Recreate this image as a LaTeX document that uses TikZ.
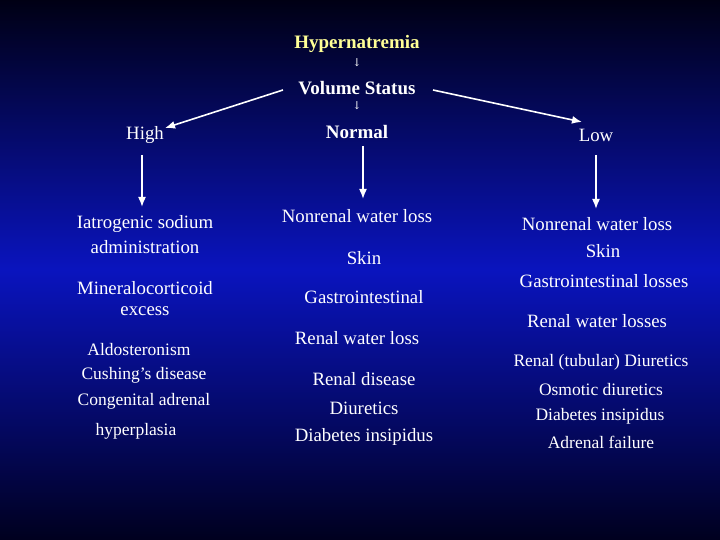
\documentclass[tikz,border=0pt]{standalone}
\usepackage{fontspec}
\setmainfont{Liberation Serif}
\newfontfamily\arrfont{DejaVu Serif}
\begin{document}
\begin{tikzpicture}[x=1pt,y=-1pt,
  t/.style={text=white,inner sep=0pt,font=\fontsize{18.8}{20}\selectfont},
  ts/.style={text=white,inner sep=0pt,font=\fontsize{17.5}{19}\selectfont},
  tb/.style={text=white,inner sep=0pt,font=\bfseries\fontsize{19}{21}\selectfont},
  sa/.style={text=white,inner sep=0pt,font=\arrfont\fontsize{11}{12}\selectfont},
  ar/.style={draw=white,line width=1.6pt,-{Latex[length=10pt,width=8pt]}}]
\usetikzlibrary{arrows.meta}
\shade[top color=black!92!blue, bottom color=black!88!blue, middle color={rgb,255:red,10;green,20;blue,190}] (0,0) rectangle (720,540);
\useasboundingbox (0,0) rectangle (720,540);
\node[tb,text={rgb,255:red,255;green,255;blue,150}] (hyp) at (357,44) {Hypernatremia};
\node[sa] (a1) at (357,63) {↓};
\node[tb] (vol) at (357,88) {Volume Status};
\node[sa] (a2) at (357,106) {↓};
\node[tb] (nor) at (357,132) {Normal};
\node[t] (high) at (145,135) {High};
\node[t] (low) at (596,135) {Low};
\coordinate (vl) at (283,90); \coordinate (vlE) at (165,128);
\coordinate (vr) at (433,90); \coordinate (vrE) at (582,122);
\draw[ar] (vl) -- (vlE);
\draw[ar] (vr) -- (vrE);
\coordinate (h1) at (142,155); \coordinate (h2) at (142,207);
\coordinate (n1) at (363,146); \coordinate (n2) at (363,199);
\coordinate (l1) at (596,155); \coordinate (l2) at (596,209);
\draw[ar] (h1) -- (h2);
\draw[ar] (n1) -- (n2);
\draw[ar] (l1) -- (l2);
% left
\node[t] (L1) at (145,224) {Iatrogenic sodium};
\node[t] (L2) at (145,247) {administration};
\node[t] (L3) at (145,288) {Mineralocorticoid};
\node[t] (L4) at (145,311) {excess};
\node[ts] (L5) at (139,350) {Aldosteronism};
\node[ts] (L6) at (144,375) {Cushing’s disease};
\node[ts] (L7) at (144,401) {Congenital adrenal};
\node[ts] (L8) at (136,431) {hyperplasia};
% middle
\node[t] (M1) at (357,216) {Nonrenal water loss};
\node[t] (M2) at (364,258) {Skin};
\node[t] (M3) at (364,297) {Gastrointestinal};
\node[t] (M4) at (357,338) {Renal water loss};
\node[t] (M5) at (364,379) {Renal disease};
\node[t] (M6) at (364,408) {Diuretics};
\node[t] (M7) at (364,437) {Diabetes insipidus};
% right
\node[t] (R1) at (597,224) {Nonrenal water loss};
\node[t] (R2) at (603,251) {Skin};
\node[t] (R3) at (604,281) {Gastrointestinal losses};
\node[t] (R4) at (597,321) {Renal water losses};
\node[ts] (R5) at (601,362) {Renal (tubular) Diuretics};
\node[ts] (R6) at (601,390) {Osmotic diuretics};
\node[ts] (R7) at (600,416) {Diabetes insipidus};
\node[ts] (R8) at (601,442) {Adrenal failure};
\end{tikzpicture}
\end{document}
